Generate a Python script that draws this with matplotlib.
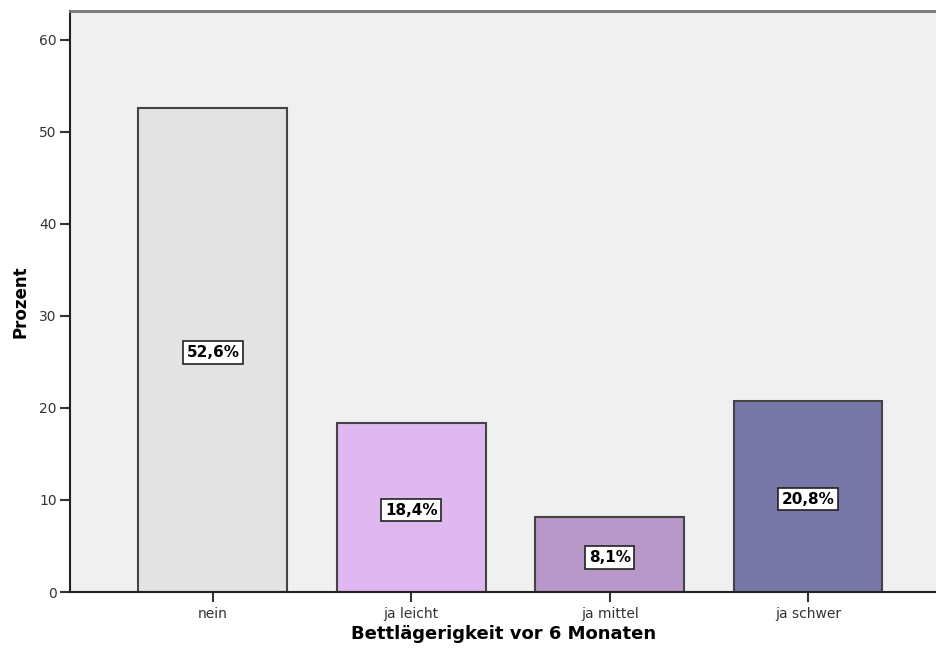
import matplotlib
matplotlib.use("Agg")
import matplotlib.pyplot as plt

kategorien = ["nein", "ja leicht", "ja mittel", "ja schwer"]
prozent = [52.6, 18.4, 8.1, 20.8]
farben = ["#e3e3e3", "#dfb8f2", "#b898c9", "#7878a8"]

plt.rcParams["font.family"] = ["DejaVu Sans"]

fig = plt.figure(figsize=(9.37, 6.52), dpi=100)
ax = fig.add_axes([70 / 937, 1 - 592 / 652, 1 - 70 / 937, (592 - 11) / 652])
ax.set_facecolor("#f0f0f0")

x = range(len(kategorien))
ax.bar(x, prozent, width=0.75, color=farben, edgecolor="#444444", linewidth=1.5, zorder=2)

# Beschriftung in der Mitte jedes Balkens
for i, p in zip(x, prozent):
    ax.text(i, p / 2 - 0.3, f"{p:.1f}%".replace(".", ","), ha="center", va="center",
            fontsize=11, fontweight="bold", color="black",
            bbox=dict(boxstyle="square,pad=0.25", facecolor="white", edgecolor="#222222", linewidth=1.2),
            zorder=3)

ax.set_xlim(-0.72, 3.65)
ax.set_ylim(0, 63.15)
ax.set_yticks([0, 10, 20, 30, 40, 50, 60])
ax.set_xticks(list(x))
ax.set_xticklabels(kategorien)
ax.tick_params(axis="both", labelsize=10, colors="#333333", length=7.5, width=1.5, pad=2)
ax.tick_params(axis="x", pad=3)

ax.spines["right"].set_visible(False)
ax.spines["top"].set_color("#777777")
ax.spines["top"].set_linewidth(2)
ax.spines["left"].set_color("#222222")
ax.spines["left"].set_linewidth(1.5)
ax.spines["bottom"].set_color("#222222")
ax.spines["bottom"].set_linewidth(1.5)

ax.set_xlabel("Bettlägerigkeit vor 6 Monaten", fontsize=13, fontweight="bold", labelpad=3)
ax.set_ylabel("Prozent", fontsize=12, fontweight="bold", labelpad=7)

fig.savefig("out.png", dpi=100, facecolor="white")
